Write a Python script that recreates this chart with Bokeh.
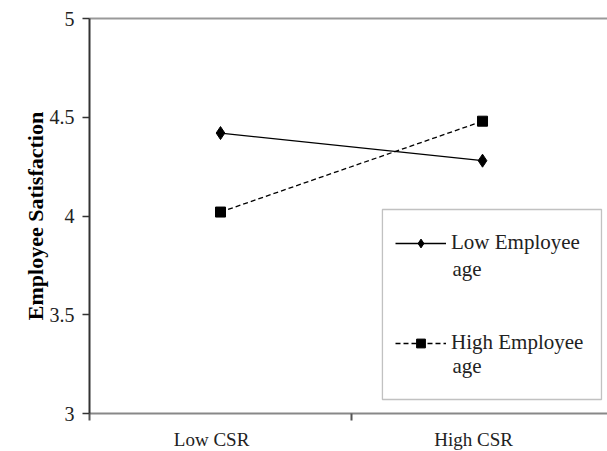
from bokeh.plotting import figure
from bokeh.models import (FixedTicker, Range1d, LinearAxis, Legend, LegendItem,
                          BoxAnnotation, Label)
from bokeh.embed import file_html
from bokeh.resources import INLINE

categories = ["Low CSR", "High CSR"]
cat_pos = [0.5, 1.5]
low_age = [4.42, 4.28]
high_age = [4.02, 4.48]
series_names = ["Low Employee", "High Employee"]
y_ticks = [3, 3.5, 4, 4.5, 5]
y_title = "Employee Satisfaction"

FONT = "Liberation Serif"

p = figure(frame_width=518, frame_height=395, output_backend="svg", toolbar_location=None,
           x_range=Range1d(0, 1.977), y_range=Range1d(3, 5),
           min_border_left=89, min_border_right=0, min_border_top=18,
           min_border_bottom=37)
p.outline_line_color = None
p.grid.visible = False
p.background_fill_color = "white"

r1 = p.line(cat_pos, low_age, line_color="black", line_width=1.3)
s1 = p.scatter(cat_pos, low_age, marker="diamond", size=13, color="black")
r2 = p.line(cat_pos, high_age, line_color="black", line_width=1.3, line_dash="5 3")
s2 = p.scatter(cat_pos, high_age, marker="square", size=10, color="black")

# x axis: labels slightly left of the category centres, ticks at boundaries
label_pos = [c - 0.034 for c in cat_pos]
xa = p.xaxis[0]
xa.ticker = FixedTicker(ticks=label_pos, minor_ticks=[0, 1, 2])
xa.major_label_overrides = {label_pos[i]: categories[i] for i in range(2)}
xa.major_tick_line_color = None
xa.major_tick_out = 0
xa.minor_tick_in = 0
xa.minor_tick_out = 7
xa.minor_tick_line_color = "#555555"
xa.minor_tick_line_width = 2
xa.axis_line_color = "#888888"
xa.axis_line_width = 2
xa.major_label_standoff = 8
xa.major_label_text_font = FONT
xa.major_label_text_font_size = "19px"
xa.major_label_text_color = "#222222"

# y axis
ya = p.yaxis[0]
ya.ticker = FixedTicker(ticks=y_ticks)
ya.major_label_overrides = {3: "3", 3.5: "3.5", 4: "4", 4.5: "4.5", 5: "5"}
ya.minor_tick_line_color = None
ya.major_tick_in = 0
ya.major_tick_out = 7
ya.major_tick_line_color = "#333333"
ya.major_tick_line_width = 1.5
ya.axis_line_color = "#333333"
ya.axis_line_width = 2
ya.major_label_standoff = 8
ya.major_label_text_font = FONT
ya.major_label_text_font_size = "20px"
ya.major_label_text_color = "#222222"
ya.axis_label = y_title
ya.axis_label_text_font = FONT
ya.axis_label_text_font_style = "bold"
ya.axis_label_text_font_size = "22px"
ya.axis_label_standoff = -1
ya.axis_label_text_color = "black"

# top border line
top = LinearAxis(ticker=FixedTicker(ticks=[]), major_label_text_font_size="0px",
                 axis_line_color="#999999", axis_line_width=2,
                 major_tick_line_color=None, minor_tick_line_color=None)
p.add_layout(top, "above")

# legend frame
p.add_layout(BoxAnnotation(left=1.118, right=1.954, top=4.033, bottom=3.071,
                           fill_color="white", fill_alpha=1.0,
                           line_color="#333333", line_width=1.3, level="underlay"))

legend = Legend(items=[LegendItem(label=series_names[0], renderers=[r1, s1]),
                       LegendItem(label=series_names[1], renderers=[r2, s2])],
                location=(306, 58), border_line_color=None,
                background_fill_alpha=0, padding=0, margin=0,
                glyph_width=51, glyph_height=22, label_height=22,
                label_standoff=5, spacing=75,
                label_text_font=FONT, label_text_font_size="21px",
                label_text_color="#222222")
p.add_layout(legend, "center")

for yv in [3.734, 3.243]:
    p.add_layout(Label(x=1.385, y=yv, text="age", text_font=FONT,
                       text_font_size="21px", text_baseline="middle",
                       text_color="#222222"))

open("out.html", "w").write(file_html(p, INLINE))
